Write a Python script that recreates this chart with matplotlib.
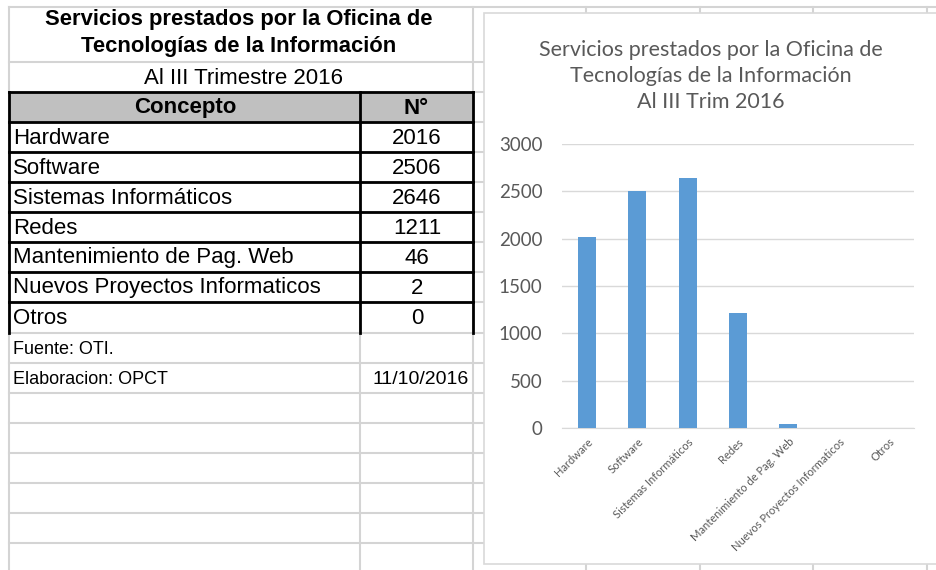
import matplotlib.pyplot as plt
from matplotlib.patches import Rectangle

# data read from the sheet
conceptos = ["Hardware", "Software", "Sistemas Informáticos", "Redes",
             "Mantenimiento de Pag. Web", "Nuevos Proyectos Informaticos", "Otros"]
servicios = [2016, 2506, 2646, 1211, 46, 2, 0]
y_ticks = [0, 500, 1000, 1500, 2000, 2500, 3000]

tabla_titulo = "Servicios prestados por la Oficina de\nTecnologías de la Información"
tabla_sub = "Al III Trimestre 2016"
grafico_titulo = "Servicios prestados por la Oficina de\nTecnologías de la Información\nAl III Trim 2016"
fuente = "Fuente: OTI."
elaboracion = "Elaboracion: OPCT"
fecha = "11/10/2016"

W, H = 937, 570
fig = plt.figure(figsize=(W / 100, H / 100), dpi=100)

# background "sheet" in pixel coordinates
bg = fig.add_axes([0, 0, 1, 1])
bg.set_xlim(0, W)
bg.set_ylim(H, 0)
bg.axis("off")

grid_c = "#d4d4d4"
rows = [7, 62, 92, 122, 152, 182, 212, 242, 272, 302, 333, 363, 393, 423, 453, 483, 513, 543]
for y in rows:
    bg.plot([9, W], [y, y], color=grid_c, lw=1.5, zorder=1)
for x in [9, 473, 586, 700, 813, 927]:
    bg.plot([x, x], [7, H], color=grid_c, lw=1.5, zorder=1)
bg.plot([360, 360], [92, H], color=grid_c, lw=1.5, zorder=1)

# table header + black borders
bg.add_patch(Rectangle((9, 92), 464, 30, facecolor="#c0c0c0", edgecolor="none", zorder=2))
for y in rows[2:10]:
    bg.plot([9, 473], [y, y], color="black", lw=2, zorder=3)
for x in [9, 360, 473]:
    bg.plot([x, x], [92, 333], color="black", lw=2, zorder=3)

tfont = "Liberation Sans"
bg.text(239, 33, tabla_titulo, ha="center", va="center", fontsize=15.8,
        fontweight="bold", family=tfont, linespacing=1.32)
bg.text(244, 78, tabla_sub, ha="center", va="center", fontsize=16, family=tfont)
bg.text(185, 108, "Concepto", ha="center", va="center", fontsize=16,
        fontweight="bold", family=tfont)
bg.text(416, 108, "N°", ha="center", va="center", fontsize=16,
        fontweight="bold", family=tfont)
for i, (c, v) in enumerate(zip(conceptos, servicios)):
    yc = 138 + i * 30
    bg.text(13, yc, c, ha="left", va="center", fontsize=16, family=tfont)
    bg.text(417, yc, str(v), ha="center", va="center", fontsize=16, family=tfont)
bg.text(13, 349, fuente, ha="left", va="center", fontsize=13, family=tfont)
bg.text(13, 379, elaboracion, ha="left", va="center", fontsize=13, family=tfont)
bg.text(469, 379, fecha, ha="right", va="center", fontsize=14, family=tfont)

# chart box (runs off the right edge of the screenshot)
bg.add_patch(Rectangle((484, 13), 470, 551, facecolor="white", edgecolor="#d9d9d9",
                       lw=1.2, zorder=5))
bg.text(711, 76, grafico_titulo, ha="center", va="center", fontsize=15.5,
        color="#595959", family="Lato", linespacing=1.4, zorder=6)

# bar chart
ax = fig.add_axes([562 / W, (H - 428) / H, 352 / W, (428 - 144) / H])
x = range(len(conceptos))
ax.bar(x, servicios, width=0.36, color="#5B9BD5", zorder=3)
ax.set_xlim(-0.5, len(conceptos) - 0.5)
ax.set_ylim(0, 3000)
ax.set_yticks(y_ticks)
ax.set_yticklabels([str(t) for t in y_ticks], fontsize=13.5, color="#595959", family="Lato")
ax.set_xticks(list(x))
ax.set_xticklabels(conceptos, rotation=45, ha="right", va="top", rotation_mode="anchor",
                   fontsize=8, color="#595959", family="Lato")
ax.grid(axis="y", color="#d9d9d9", lw=1, zorder=0)
ax.tick_params(length=0, pad=6)
ax.tick_params(axis="y", pad=14)
for s in ["top", "right", "left"]:
    ax.spines[s].set_visible(False)
ax.spines["bottom"].set_color("#d9d9d9")
ax.patch.set_alpha(0)

fig.savefig("out.png", dpi=100)
